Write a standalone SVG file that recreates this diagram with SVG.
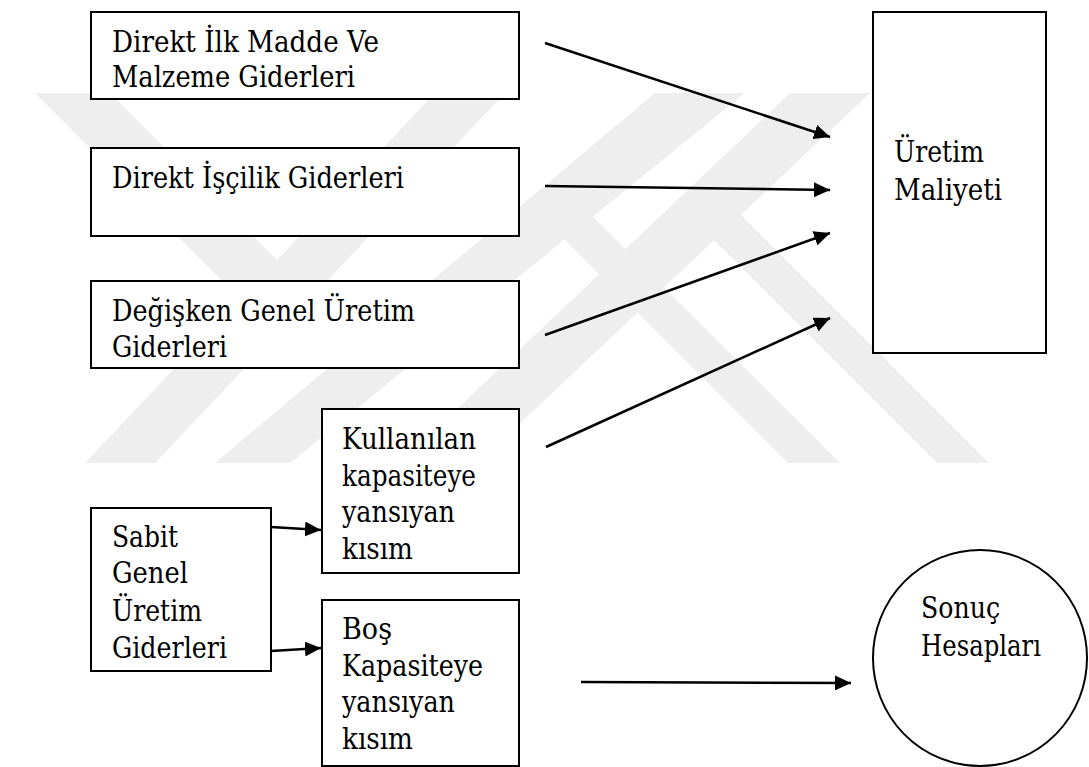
<svg xmlns="http://www.w3.org/2000/svg" width="1089" height="767" viewBox="0 0 1089 767">
  <style>
    .box { fill: #ffffff; stroke: #000000; stroke-width: 2; }
    .txt { font-family: 'DejaVu Serif', 'Liberation Serif', 'Noto Serif', serif; font-size: 29px; fill: #000000; }
    .conn { stroke: #000000; stroke-width: 2.5; fill: none; marker-end: url(#arrow); }
    .wm { fill: #eeeeee; stroke: none; }
  </style>
  <defs>
    <marker id="arrow" viewBox="0 0 16 15" refX="16" refY="7.5" markerWidth="16" markerHeight="15" markerUnits="userSpaceOnUse" orient="auto">
      <path d="M0,0 L16,7.5 L0,15 Z" fill="#000000"/>
    </marker>
  </defs>
  <rect x="0" y="0" width="1089" height="767" fill="#ffffff"/>

  <g id="watermark">
    <polygon class="wm" points="435,93 505,93 155,463 85,463"/>
    <polygon class="wm" points="655,93 745,93 290,463 215,463"/>
    <polygon class="wm" points="790,93 870,93 478,463 400,463"/>
    <polygon class="wm" points="35,93 110,93 277,260 276,335"/>
    <polygon class="wm" points="554,178 840,463 788,463 565,240"/>
    <polygon class="wm" points="702,176 989,463 937,463 714,240"/>
  </g>

  <g id="n-direkt-ilk-madde">
    <rect class="box" x="91" y="12" width="428" height="87"/>
    <text class="txt" x="112" y="52" textLength="267" lengthAdjust="spacingAndGlyphs">Direkt İlk Madde Ve</text>
    <text class="txt" x="112" y="87" textLength="243" lengthAdjust="spacingAndGlyphs">Malzeme Giderleri</text>
  </g>
  <g id="n-direkt-iscilik">
    <rect class="box" x="91" y="148" width="428" height="88"/>
    <text class="txt" x="112" y="188" textLength="292" lengthAdjust="spacingAndGlyphs">Direkt İşçilik Giderleri</text>
  </g>
  <g id="n-degisken-genel">
    <rect class="box" x="91" y="281" width="428" height="87"/>
    <text class="txt" x="112" y="321" textLength="303" lengthAdjust="spacingAndGlyphs">Değişken Genel Üretim</text>
    <text class="txt" x="112" y="357" textLength="115" lengthAdjust="spacingAndGlyphs">Giderleri</text>
  </g>
  <g id="n-uretim-maliyeti">
    <rect class="box" x="873" y="12" width="173" height="341"/>
    <text class="txt" x="894" y="162" textLength="90" lengthAdjust="spacingAndGlyphs">Üretim</text>
    <text class="txt" x="894" y="200" textLength="108" lengthAdjust="spacingAndGlyphs">Maliyeti</text>
  </g>
  <g id="n-sabit-genel">
    <rect class="box" x="91" y="508" width="180" height="163"/>
    <text class="txt" x="112" y="547" textLength="66" lengthAdjust="spacingAndGlyphs">Sabit</text>
    <text class="txt" x="112" y="583" textLength="76" lengthAdjust="spacingAndGlyphs">Genel</text>
    <text class="txt" x="112" y="621" textLength="90" lengthAdjust="spacingAndGlyphs">Üretim</text>
    <text class="txt" x="112" y="658" textLength="115" lengthAdjust="spacingAndGlyphs">Giderleri</text>
  </g>
  <g id="n-kullanilan">
    <rect class="box" x="322" y="409" width="197" height="164"/>
    <text class="txt" x="342" y="449" textLength="134" lengthAdjust="spacingAndGlyphs">Kullanılan</text>
    <text class="txt" x="342" y="486" textLength="134" lengthAdjust="spacingAndGlyphs">kapasiteye</text>
    <text class="txt" x="342" y="522" textLength="113" lengthAdjust="spacingAndGlyphs">yansıyan</text>
    <text class="txt" x="342" y="559" textLength="71" lengthAdjust="spacingAndGlyphs">kısım</text>
  </g>
  <g id="n-bos">
    <rect class="box" x="322" y="600" width="197" height="166"/>
    <text class="txt" x="342" y="639" textLength="50" lengthAdjust="spacingAndGlyphs">Boş</text>
    <text class="txt" x="342" y="676" textLength="141" lengthAdjust="spacingAndGlyphs">Kapasiteye</text>
    <text class="txt" x="342" y="712" textLength="113" lengthAdjust="spacingAndGlyphs">yansıyan</text>
    <text class="txt" x="342" y="749" textLength="71" lengthAdjust="spacingAndGlyphs">kısım</text>
  </g>
  <g id="n-sonuc">
    <ellipse class="box" cx="980" cy="658" rx="107" ry="108"/>
    <text class="txt" x="921" y="618" textLength="79" lengthAdjust="spacingAndGlyphs">Sonuç</text>
    <text class="txt" x="921" y="656" textLength="120" lengthAdjust="spacingAndGlyphs">Hesapları</text>
  </g>

  <g id="connectors">
    <line class="conn" x1="545" y1="43" x2="830" y2="137"/>
    <line class="conn" x1="545" y1="186" x2="830" y2="190"/>
    <line class="conn" x1="545" y1="335" x2="830" y2="233"/>
    <line class="conn" x1="546" y1="447" x2="830" y2="318"/>
    <line class="conn" x1="271" y1="527" x2="321" y2="530"/>
    <line class="conn" x1="271" y1="651" x2="321" y2="648"/>
    <line class="conn" x1="581" y1="682" x2="851" y2="683"/>
  </g>
</svg>
